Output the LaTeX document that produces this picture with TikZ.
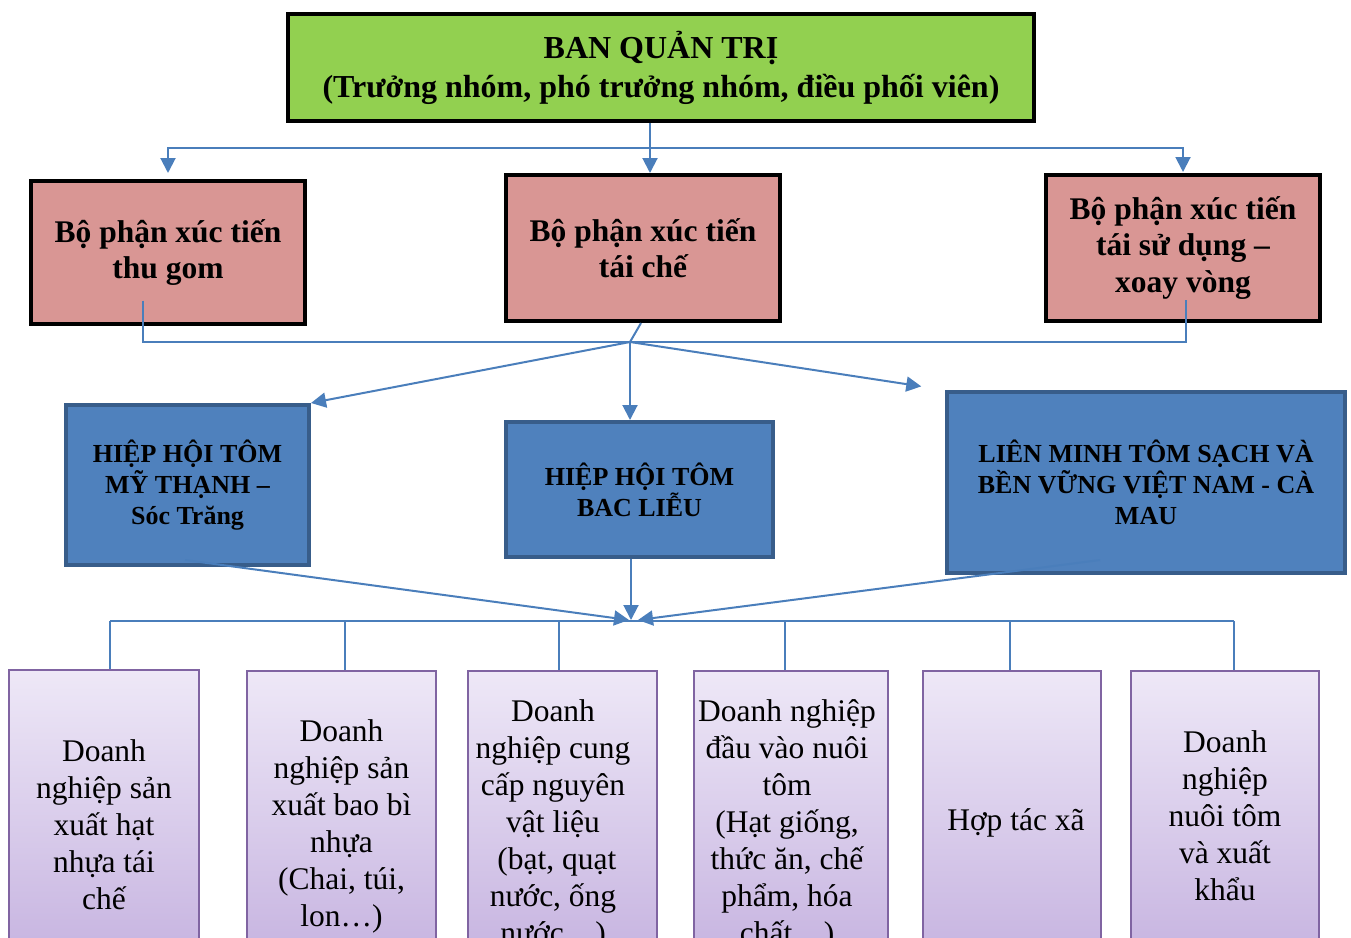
\documentclass[tikz,border=0pt]{standalone}
\usepackage{fontspec}
\setmainfont{Liberation Serif}
\usetikzlibrary{arrows.meta,calc}
\definecolor{topgreen}{HTML}{92D050}
\definecolor{pinkfill}{HTML}{D99694}
\definecolor{bluefill}{HTML}{4F81BD}
\definecolor{blueborder}{HTML}{385D8A}
\definecolor{purpleborder}{HTML}{8064A2}
\definecolor{purpletop}{HTML}{EEE8F7}
\definecolor{purplebot}{HTML}{C6B3E0}
\definecolor{linecol}{HTML}{4A7EBB}
\begin{document}
\begin{tikzpicture}[x=1pt,y=-1pt,
  topbox/.style={draw=black, line width=4pt, fill=topgreen, minimum width=746pt, minimum height=107pt, inner sep=0pt, font=\fontsize{32}{39}\selectfont\bfseries, align=center},
  pinkbox/.style={draw=black, line width=4pt, fill=pinkfill, minimum width=274pt, minimum height=146pt, inner sep=0pt, font=\fontsize{31.5}{36.5}\selectfont\bfseries, align=center},
  bluebox/.style={draw=blueborder, line width=4pt, fill=bluefill, inner sep=0pt, font=\fontsize{26}{31}\selectfont\bfseries, align=center},
  purplebox/.style={draw=purpleborder, line width=1.5pt, top color=purpletop, bottom color=purplebot, inner sep=0pt, minimum height=290pt, anchor=north},
  ptext/.style={font=\fontsize{31.5}{37}\selectfont, align=center, inner sep=0pt},
  conn/.style={draw=linecol, line width=2pt},
  arr/.style={conn, -{Triangle[length=15pt,width=15pt]}}
]
\useasboundingbox (0,0) rectangle (1351,937);
\clip (0,0) rectangle (1351,937);

% top
\node[topbox] (top) at (661,67.5) {BAN QUẢN TRỊ\\(Trưởng nhóm, phó trưởng nhóm, điều phối viên)};

% pink
\node[pinkbox, minimum height=143pt] (p1) at (168,252.5) {Bộ phận xúc tiến\\thu gom};
\node[pinkbox] (p2) at (643,248) {Bộ phận xúc tiến\\tái chế};
\node[pinkbox] (p3) at (1183,248) {Bộ phận xúc tiến\\tái sử dụng –\\xoay vòng};

% blue
\node[bluebox, minimum width=243pt, minimum height=160pt] (b1) at (187.5,485) {HIỆP HỘI TÔM\\MỸ THẠNH –\\Sóc Trăng};
\node[bluebox, minimum width=267pt, minimum height=135pt] (b2) at (639.5,489.5) {HIỆP HỘI TÔM\\BAC LIỄU};
\node[bluebox, minimum width=398pt, minimum height=181pt] (b3) at (1146,482.5) {LIÊN MINH TÔM SẠCH VÀ\\BỀN VỮNG VIỆT NAM - CÀ\\MAU};

% purple
\node[purplebox, minimum width=190pt] (d1) at (104,669) {};
\node[purplebox, minimum width=189pt] (d2) at (341.5,670) {};
\node[purplebox, minimum width=189pt] (d3) at (562.5,670) {};
\node[purplebox, minimum width=194pt] (d4) at (791,670) {};
\node[purplebox, minimum width=178pt] (d5) at (1012,670) {};
\node[purplebox, minimum width=188pt] (d6) at (1225,670) {};

\node[ptext] (t1) at (104,825) {Doanh\\nghiệp sản\\xuất hạt\\nhựa tái\\chế};
\node[ptext] (t2) at (341.5,826) {Doanh\\nghiệp sản\\xuất bao bì\\nhựa\\(Chai, túi,\\lon…)};
\node[ptext] (t3) at (553,825) {Doanh\\nghiệp cung\\cấp nguyên\\vật liệu\\\ (bạt, quạt\\nước, ống\\nước…)};
\node[ptext] (t4) at (787,825) {Doanh nghiệp\\đầu vào nuôi\\tôm\\(Hạt giống,\\thức ăn, chế\\phẩm, hóa\\chất…)};
\node[ptext] (t5) at (1016,823) {Hợp tác xã};
\node[ptext] (t6) at (1225,816) {Doanh\\nghiệp\\nuôi tôm\\và xuất\\khẩu};

% connectors top -> pink
\coordinate (ja) at (650,148);
\draw[arr] (top.south -| ja) -- (ja |- p2.north);
\draw[arr, shorten >=6pt] (ja) -| (p1.north);
\draw[arr, shorten >=1pt] (ja) -| (p3.north);

% pink -> blue
\coordinate (jb) at (630,342);
\draw[conn] ($(p1.center)+(-25,48)$) |- (jb);
\draw[conn] ($(p3.center)+(3,52)$) |- (jb);
\draw[conn] ($(p2.south)+(-2,0)$) -- (jb);
\draw[arr] (jb) -- (b1.north east);
\draw[arr] (jb) -- (jb |- b2.north);
\draw[arr, shorten >=24pt] (jb) -- (b3.north west);

% blue -> bus
\coordinate (jcl) at (629,620);
\coordinate (jcm) at (631,620);
\coordinate (jcr) at (638,620);
\draw[arr] ($(b1.south)+(-2.5,-7)$) -- (jcl);
\draw[arr] (jcm |- b2.south) -- (jcm);
\draw[arr] ($(b3.south)+(-46,-15)$) -- (jcr);

% bus
\coordinate (k1) at (110,621);
\coordinate (k2) at (345,621);
\coordinate (k3) at (559,621);
\coordinate (k4) at (785,621);
\coordinate (k5) at (1010,621);
\coordinate (k6) at (1234,621);
\draw[conn] (k1) -- (k6);
\foreach \i in {1,...,6} {\draw[conn] (k\i) -- (k\i |- d\i.north);}
\end{tikzpicture}
\end{document}
